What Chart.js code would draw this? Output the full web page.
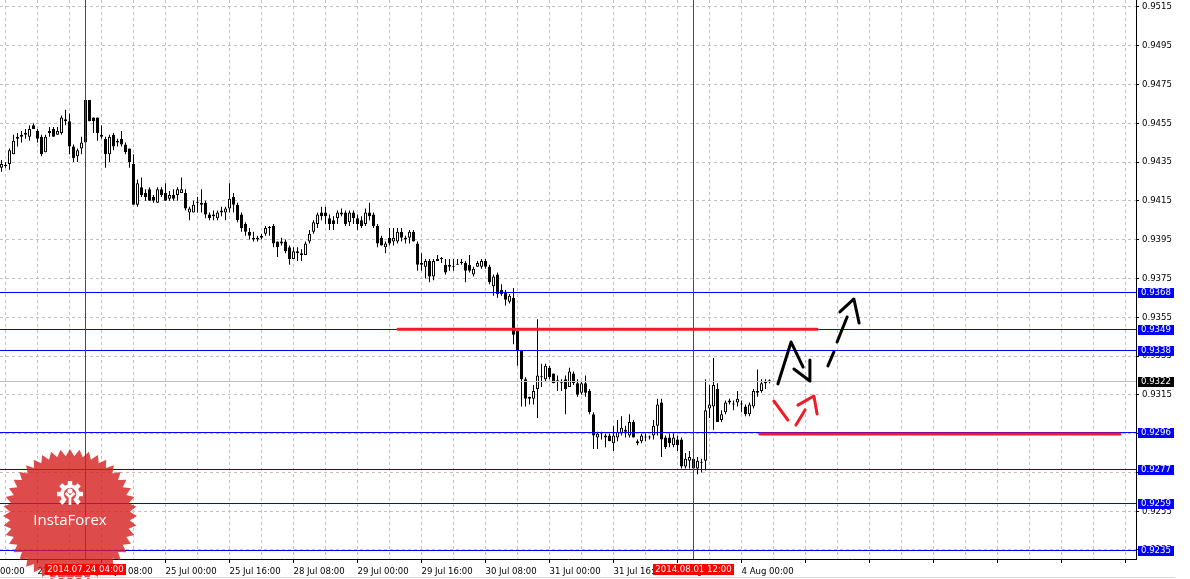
<!DOCTYPE html>
<html>
<head>
<meta charset="utf-8">
<title>H1 chart</title>
<script src="https://cdn.jsdelivr.net/npm/chart.js@4.4.1/dist/chart.umd.min.js"></script>
<style>
  html, body { margin: 0; padding: 0; background: #fff; overflow: hidden; }
  canvas { display: block; }
</style>
</head>
<body>
<canvas id="chart" width="1190" height="579"></canvas>
<script>
// H1 bars, index 0 = 23 Jul 07:00, one bar per hour (weekend skipped)
const opens = [
  0.9432,0.9433,0.9434,0.9439,0.9447,0.9449,0.9450,0.9448,0.9454,0.9451,
  0.9448,0.9440,0.9450,0.9452,0.9449,0.9450,0.9457,0.9456,0.9443,0.9438,
  0.9442,0.9467,0.9467,0.9458,0.9458,0.9449,0.9447,0.9439,0.9449,0.9445,
  0.9447,0.9444,0.9442,0.9434,0.9413,0.9422,0.9419,0.9421,0.9417,0.9414,
  0.9421,0.9419,0.9416,0.9418,0.9418,0.9419,0.9419,0.9409,0.9409,0.9414,
  0.9413,0.9414,0.9408,0.9408,0.9406,0.9409,0.9409,0.9411,0.9417,0.9413,
  0.9408,0.9403,0.9399,0.9395,0.9395,0.9396,0.9398,0.9401,0.9402,0.9394,
  0.9393,0.9394,0.9391,0.9385,0.9388,0.9388,0.9387,0.9394,0.9399,0.9403,
  0.9409,0.9409,0.9406,0.9405,0.9406,0.9409,0.9409,0.9404,0.9409,0.9406,
  0.9405,0.9403,0.9409,0.9408,0.9402,0.9396,0.9391,0.9396,0.9394,0.9394,
  0.9399,0.9396,0.9396,0.9399,0.9393,0.9383,0.9381,0.9384,0.9376,0.9384,
  0.9385,0.9382,0.9381,0.9381,0.9382,0.9383,0.9383,0.9382,0.9377,0.9381,
  0.9381,0.9384,0.9381,0.9371,0.9377,0.9369,0.9368,0.9363,0.9365,0.9348,
  0.9338,0.9323,0.9313,0.9313,0.9318,0.9324,0.9323,0.9329,0.9326,0.9322,
  0.9321,0.9323,0.9319,0.9326,0.9321,0.9316,0.9321,0.9317,0.9305,0.9293,
  0.9295,0.9293,0.9294,0.9290,0.9293,0.9295,0.9296,0.9294,0.9301,0.9290,
  0.9291,0.9293,0.9293,0.9294,0.9299,0.9311,0.9293,0.9293,0.9289,0.9292,
  0.9292,0.9278,0.9281,0.9282,0.9277,0.9280,0.9281,0.9308,0.9309,0.9318,
  0.9302,0.9306,0.9312,0.9310,0.9311,0.9310,0.9309,0.9305,0.9309,0.9317,
  0.9317,0.9321,0.9322
];
const highs = [
  0.9436,0.9435,0.9442,0.9449,0.9450,0.9451,0.9452,0.9454,0.9455,0.9452,
  0.9449,0.9449,0.9453,0.9453,0.9453,0.9459,0.9462,0.9460,0.9444,0.9442,
  0.9448,0.9467,0.9467,0.9458,0.9458,0.9454,0.9448,0.9449,0.9450,0.9447,
  0.9451,0.9445,0.9442,0.9439,0.9426,0.9427,0.9421,0.9422,0.9418,0.9422,
  0.9422,0.9424,0.9420,0.9421,0.9422,0.9427,0.9421,0.9412,0.9415,0.9417,
  0.9421,0.9415,0.9409,0.9410,0.9410,0.9412,0.9412,0.9424,0.9419,0.9414,
  0.9409,0.9404,0.9401,0.9399,0.9397,0.9398,0.9402,0.9402,0.9403,0.9394,
  0.9396,0.9395,0.9392,0.9391,0.9391,0.9390,0.9394,0.9400,0.9405,0.9409,
  0.9412,0.9412,0.9408,0.9407,0.9410,0.9411,0.9410,0.9410,0.9410,0.9408,
  0.9407,0.9411,0.9414,0.9409,0.9403,0.9397,0.9394,0.9401,0.9401,0.9401,
  0.9401,0.9397,0.9400,0.9400,0.9394,0.9388,0.9385,0.9385,0.9385,0.9387,
  0.9386,0.9385,0.9385,0.9385,0.9385,0.9385,0.9384,0.9387,0.9381,0.9384,
  0.9385,0.9385,0.9382,0.9377,0.9378,0.9372,0.9369,0.9367,0.9370,0.9348,
  0.9338,0.9324,0.9314,0.9320,0.9354,0.9331,0.9331,0.9330,0.9326,0.9325,
  0.9323,0.9325,0.9329,0.9327,0.9323,0.9322,0.9325,0.9318,0.9306,0.9296,
  0.9296,0.9295,0.9295,0.9299,0.9302,0.9304,0.9299,0.9305,0.9302,0.9292,
  0.9295,0.9295,0.9294,0.9302,0.9313,0.9313,0.9294,0.9295,0.9295,0.9294,
  0.9293,0.9285,0.9286,0.9284,0.9283,0.9282,0.9323,0.9320,0.9334,0.9321,
  0.9307,0.9312,0.9313,0.9312,0.9317,0.9312,0.9310,0.9311,0.9318,0.9328,
  0.9323,0.9323,0.9323
];
const lows = [
  0.9430,0.9432,0.9431,0.9439,0.9443,0.9445,0.9447,0.9446,0.9452,0.9445,
  0.9438,0.9440,0.9448,0.9448,0.9449,0.9449,0.9454,0.9439,0.9435,0.9435,
  0.9439,0.9445,0.9456,0.9450,0.9446,0.9447,0.9432,0.9435,0.9441,0.9443,
  0.9443,0.9439,0.9432,0.9413,0.9412,0.9417,0.9415,0.9415,0.9414,0.9414,
  0.9417,0.9415,0.9415,0.9415,0.9415,0.9419,0.9410,0.9405,0.9409,0.9409,
  0.9409,0.9406,0.9405,0.9405,0.9405,0.9407,0.9405,0.9409,0.9409,0.9404,
  0.9399,0.9397,0.9395,0.9394,0.9394,0.9395,0.9397,0.9397,0.9391,0.9386,
  0.9392,0.9388,0.9382,0.9385,0.9384,0.9384,0.9387,0.9393,0.9398,0.9401,
  0.9405,0.9403,0.9400,0.9400,0.9403,0.9407,0.9402,0.9402,0.9403,0.9400,
  0.9401,0.9402,0.9405,0.9401,0.9391,0.9392,0.9388,0.9392,0.9392,0.9393,
  0.9394,0.9393,0.9393,0.9394,0.9379,0.9379,0.9375,0.9373,0.9374,0.9384,
  0.9383,0.9377,0.9379,0.9379,0.9382,0.9382,0.9373,0.9378,0.9376,0.9381,
  0.9380,0.9380,0.9372,0.9366,0.9365,0.9366,0.9361,0.9362,0.9341,0.9330,
  0.9309,0.9309,0.9310,0.9310,0.9303,0.9319,0.9322,0.9323,0.9321,0.9317,
  0.9317,0.9305,0.9319,0.9320,0.9314,0.9315,0.9314,0.9305,0.9287,0.9287,
  0.9292,0.9288,0.9291,0.9286,0.9291,0.9294,0.9293,0.9293,0.9293,0.9289,
  0.9290,0.9291,0.9292,0.9292,0.9294,0.9283,0.9287,0.9288,0.9288,0.9286,
  0.9277,0.9277,0.9277,0.9275,0.9274,0.9275,0.9276,0.9303,0.9297,0.9301,
  0.9301,0.9305,0.9310,0.9307,0.9309,0.9306,0.9304,0.9304,0.9308,0.9314,
  0.9316,0.9318,0.9321
];
const closes = [
  0.9434,0.9433,0.9441,0.9446,0.9448,0.9448,0.9449,0.9452,0.9452,0.9447,
  0.9439,0.9448,0.9451,0.9448,0.9451,0.9458,0.9456,0.9443,0.9437,0.9441,
  0.9445,0.9445,0.9456,0.9456,0.9450,0.9448,0.9439,0.9448,0.9443,0.9446,
  0.9444,0.9440,0.9435,0.9413,0.9424,0.9418,0.9417,0.9415,0.9415,0.9421,
  0.9418,0.9415,0.9418,0.9416,0.9421,0.9421,0.9411,0.9411,0.9413,0.9414,
  0.9414,0.9408,0.9406,0.9407,0.9409,0.9410,0.9411,0.9416,0.9413,0.9405,
  0.9401,0.9399,0.9397,0.9396,0.9396,0.9397,0.9401,0.9401,0.9393,0.9391,
  0.9394,0.9389,0.9385,0.9389,0.9389,0.9387,0.9393,0.9398,0.9404,0.9408,
  0.9407,0.9407,0.9403,0.9403,0.9409,0.9408,0.9403,0.9409,0.9406,0.9403,
  0.9402,0.9409,0.9407,0.9402,0.9393,0.9392,0.9393,0.9393,0.9396,0.9399,
  0.9396,0.9395,0.9399,0.9394,0.9382,0.9382,0.9384,0.9376,0.9384,0.9385,
  0.9385,0.9378,0.9382,0.9381,0.9382,0.9383,0.9379,0.9379,0.9380,0.9383,
  0.9384,0.9381,0.9373,0.9376,0.9367,0.9367,0.9364,0.9366,0.9346,0.9338,
  0.9323,0.9313,0.9314,0.9317,0.9325,0.9324,0.9330,0.9324,0.9321,0.9322,
  0.9321,0.9318,0.9327,0.9321,0.9315,0.9321,0.9316,0.9306,0.9294,0.9295,
  0.9295,0.9294,0.9291,0.9294,0.9296,0.9298,0.9297,0.9301,0.9293,0.9291,
  0.9294,0.9293,0.9293,0.9299,0.9310,0.9292,0.9288,0.9290,0.9293,0.9289,
  0.9278,0.9282,0.9283,0.9277,0.9281,0.9280,0.9307,0.9310,0.9320,0.9301,
  0.9305,0.9311,0.9311,0.9310,0.9313,0.9310,0.9305,0.9310,0.9317,0.9316,
  0.9321,0.9322,0.9322
];

// price scale
const yTicks = [0.9235, 0.9255, 0.9275, 0.9295, 0.9315, 0.9335, 0.9355, 0.9375,
                0.9395, 0.9415, 0.9435, 0.9455, 0.9475, 0.9495, 0.9515];
const yMin = 0.923036, yMax = 0.951851;

// time scale (bar index of each tick)
const xLabelIdx  = [-7, 9, 25, 41, 57, 73, 89, 105, 121, 137, 153, 169, 185];
const xLabelText = ['23 Jul 00:00', '23 Jul 16:00', '24 Jul 08:00', '25 Jul 00:00', '25 Jul 16:00',
                    '28 Jul 08:00', '29 Jul 00:00', '29 Jul 16:00', '30 Jul 08:00', '31 Jul 00:00',
                    '31 Jul 16:00', '1 Aug 08:00', '4 Aug 00:00'];
const xMarkIdx = [201, 217, 233, 249, 265, 281];   // tick marks with no text, right of the last bar
const xMin = -0.375, xMax = 283.625;

// horizontal levels (blue) and current bid (grey)
const levels = [0.9368, 0.9349, 0.9338, 0.9296, 0.9277, 0.9259, 0.9235];
const bid = 0.9322;
// vertical lines (red) with their date labels
const vLines = [21, 173];
const vLineText = ['2014.07.24 04:00', '2014.08.01 12:00'];

// hand drawn objects: [bar index, price]
const redLineA   = [[99.1, 0.93488], [203.9, 0.93488]];
const redLineB   = [[189.6, 0.92948], [279.6, 0.92948]];
const zigzag     = [[194.1, 0.93206], [197.4, 0.93422], [200.4, 0.93293]];
const zigzagHead = [[198.1, 0.93283], [202.1, 0.93221], [202.1, 0.93329]];
const upDashA    = [[206.6, 0.93299], [208.1, 0.93371]];
const upDashB    = [[208.9, 0.93422], [211.4, 0.93551]];
const upHead     = [[209.6, 0.93577], [213.1, 0.93644], [214.4, 0.93520]];
const redDashA   = [[193.1, 0.93118], [196.6, 0.93020]];
const redDashB   = [[198.6, 0.92994], [200.9, 0.93072]];
const redHead    = [[199.1, 0.93097], [203.1, 0.93144], [203.9, 0.93051]];

const FAMILY = "'DejaVu Sans Condensed', 'Liberation Sans', sans-serif";
const FONT = { family: FAMILY, size: 9.5 };
const RED = '#ee1c24';

const lineDs = (pts, color) => ({
  type: 'line',
  data: pts.map(([x, y]) => ({ x, y })),
  borderColor: color, borderWidth: 3,
  borderCapStyle: 'round', borderJoinStyle: 'round',
  pointRadius: 0, fill: false, tension: 0, order: 0
});

// levels + vertical lines, drawn right after the candle bodies
const overlay = {
  id: 'overlay',
  afterDatasetDraw(chart, args) {
    if (args.index !== 1) return;
    const { ctx, chartArea: a, scales: { x, y } } = chart;
    ctx.save();
    ctx.lineWidth = 1;
    const hline = (v, color) => {
      const py = Math.round(y.getPixelForValue(v)) + 0.5;
      ctx.strokeStyle = color;
      ctx.beginPath(); ctx.moveTo(a.left, py); ctx.lineTo(a.right, py); ctx.stroke();
    };
    hline(bid, '#c0c0c0');
    levels.forEach(v => hline(v, '#0000ff'));
    ctx.strokeStyle = '#ff0000';
    vLines.forEach(i => {
      const px = Math.floor(x.getPixelForValue(i)) + 0.5;
      ctx.beginPath(); ctx.moveTo(px, a.top); ctx.lineTo(px, a.bottom); ctx.stroke();
    });
    ctx.restore();
  },
  afterDraw(chart) {
    const { ctx, chartArea: a, scales: { x, y } } = chart;
    ctx.save();
    drawBadge(ctx);
    ctx.font = `${FONT.size}px ${FAMILY}`;
    ctx.textBaseline = 'middle';
    // date boxes on the time scale
    ctx.textAlign = 'center';
    vLines.forEach((i, k) => {
      const px = Math.floor(x.getPixelForValue(i)) + 0.5;
      const w = Math.ceil(ctx.measureText(vLineText[k]).width) + 4;
      ctx.fillStyle = '#ff0000';
      ctx.fillRect(Math.round(px - w / 2), a.bottom + 5, w, 11);
      ctx.fillStyle = '#fff';
      ctx.fillText(vLineText[k], px, a.bottom + 11);
    });
    // price boxes on the right scale
    ctx.textAlign = 'left';
    const box = (v, bg) => {
      const py = Math.round(y.getPixelForValue(v));
      ctx.fillStyle = bg;
      ctx.fillRect(a.right + 2, py - 4, 36, 10);
      ctx.fillStyle = '#fff';
      ctx.fillText(v.toFixed(4), a.right + 5, py + 1);
    };
    levels.forEach(v => box(v, '#0000ff'));
    box(bid, '#000');
    // bottom window edge
    ctx.fillStyle = '#d8d8d8';
    ctx.fillRect(0, 577, 1175, 1);
    ctx.restore();
  }
};

// InstaForex watermark
function drawBadge(ctx) {
  const cx = 70, cy = 516, R = 67, r = 60, n = 44;
  ctx.save();
  ctx.beginPath();
  for (let k = 0; k < n * 2; k++) {
    const ang = -Math.PI / 2 + k * Math.PI / n;
    const rad = k % 2 ? r : R;
    ctx.lineTo(cx + rad * Math.cos(ang), cy + rad * Math.sin(ang));
  }
  ctx.closePath();
  ctx.fillStyle = 'rgba(214,30,30,0.8)';
  ctx.fill();

  // gear
  const gx = 70, gy = 494;
  ctx.strokeStyle = '#fff';
  ctx.fillStyle = '#fff';
  ctx.lineWidth = 3.5;
  ctx.beginPath();
  ctx.arc(gx, gy, 8, Math.PI * 0.68, Math.PI * 2.32);
  ctx.stroke();
  for (let t = 0; t < 8; t++) {
    const ang = -Math.PI / 2 + t * Math.PI / 4;
    if (Math.sin(ang) > 0.8) continue;
    ctx.save();
    ctx.translate(gx + 11 * Math.cos(ang), gy + 11 * Math.sin(ang));
    ctx.rotate(ang);
    ctx.fillRect(-2, -2.2, 4, 4.4);
    ctx.restore();
  }
  ctx.beginPath(); ctx.arc(gx, gy - 3, 2.6, 0, Math.PI * 2); ctx.fill();
  ctx.lineWidth = 2.6;
  ctx.beginPath();
  ctx.moveTo(gx - 4.5, gy - 1); ctx.lineTo(gx, gy + 3); ctx.lineTo(gx + 4.5, gy - 1);
  ctx.moveTo(gx, gy + 2); ctx.lineTo(gx, gy + 11);
  ctx.stroke();

  ctx.font = "15px 'Open Sans', 'Noto Sans', sans-serif";
  ctx.textAlign = 'center';
  ctx.textBaseline = 'middle';
  ctx.fillText('InstaForex', cx, 521);
  ctx.restore();
}

const xTicks = [];
for (let v = -7; v <= 281; v += 8) xTicks.push(v);

new Chart(document.getElementById('chart').getContext('2d'), {
  type: 'bar',
  data: {
    datasets: [
      {
        label: 'wicks',
        data: opens.map((o, i) => ({ x: i, y: [lows[i], highs[i]] })),
        backgroundColor: '#000', borderWidth: 0,
        barThickness: 1, grouped: false, inflateAmount: 0, order: 3
      },
      {
        label: 'bodies',
        data: opens.map((o, i) => ({ x: i, y: [o, closes[i]] })),
        backgroundColor: c => closes[c.dataIndex] > opens[c.dataIndex] ? '#fff' : '#000',
        borderColor: '#000', borderWidth: 1, borderSkipped: false,
        barThickness: 3, minBarLength: 1, grouped: false, inflateAmount: 0, order: 2
      },
      lineDs(redLineA, RED),
      lineDs(redLineB, RED),
      lineDs(zigzag, '#000'),
      lineDs(zigzagHead, '#000'),
      lineDs(upDashA, '#000'),
      lineDs(upDashB, '#000'),
      lineDs(upHead, '#000'),
      lineDs(redDashA, RED),
      lineDs(redDashB, RED),
      lineDs(redHead, RED)
    ]
  },
  options: {
    responsive: false,
    animation: false,
    events: [],
    layout: { padding: 0 },
    plugins: { legend: { display: false }, tooltip: { enabled: false } },
    scales: {
      x: {
        type: 'linear', min: xMin, max: xMax, offset: false,
        afterBuildTicks: s => { s.ticks = xTicks.map(v => ({ value: v })); },
        afterFit: s => { s.height = 20; s.paddingLeft = 0; s.paddingRight = 0; },
        ticks: {
          autoSkip: false, maxRotation: 0, align: 'start', padding: 3, color: '#000', font: FONT,
          callback: v => { const k = xLabelIdx.indexOf(v); return k >= 0 ? xLabelText[k] : ''; }
        },
        grid: {
          offset: false, color: '#c0c0c0', tickLength: 4,
          tickColor: c => (c.tick && (xLabelIdx.includes(c.tick.value) || xMarkIdx.includes(c.tick.value))) ? '#000' : 'rgba(0,0,0,0)'
        },
        border: { color: '#000', width: 1, dash: [3, 3] }
      },
      y: {
        type: 'linear', position: 'right', min: yMin, max: yMax,
        afterBuildTicks: s => { s.ticks = yTicks.map(v => ({ value: v })); },
        afterFit: s => { s.width = 54; s.paddingTop = 0; s.paddingBottom = 0; },
        ticks: { autoSkip: false, padding: 3, color: '#000', font: FONT, callback: v => v.toFixed(4) },
        grid: { color: '#c0c0c0', tickColor: '#000', tickLength: 3 },
        border: { color: '#000', width: 1, dash: [3, 3] }
      }
    }
  },
  plugins: [overlay]
});
</script>
</body>
</html>
